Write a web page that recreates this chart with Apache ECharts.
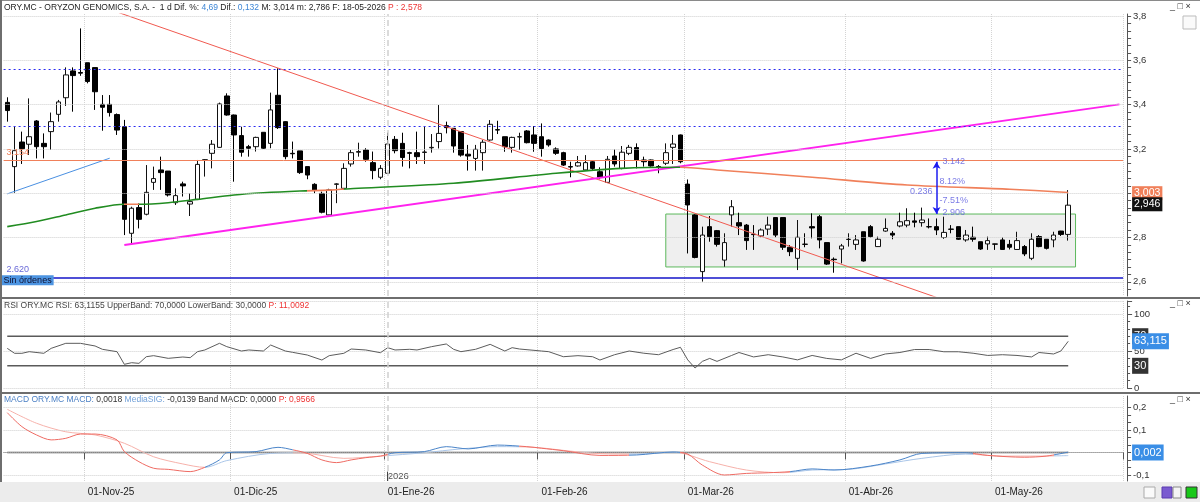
<!DOCTYPE html>
<html>
<head>
<meta charset="UTF-8">
<title>ORY.MC</title>
<script src="https://cdn.jsdelivr.net/npm/echarts@6/dist/echarts.min.js"></script>
<style>
html,body{margin:0;padding:0;background:#fff;}
#main{width:1200px;height:502px;}
</style>
</head>
<body>
<div id="main"></div>
<script type="text/javascript">
// sesiones diarias ORY.MC (17-10-2025 .. 18-05-2026)
var opens = [3.410,3.120,3.231,3.221,3.326,3.225,3.278,3.356,3.431,3.552,3.545,3.589,3.567,3.401,3.401,3.355,3.300,2.819,2.935,2.905,
3.049,3.105,3.100,2.957,3.042,2.951,2.972,3.150,3.180,3.207,3.439,3.353,3.260,3.210,3.210,3.275,3.225,3.442,3.323,3.180,
3.191,3.120,3.040,2.999,2.902,3.040,3.022,3.132,3.185,3.195,3.138,3.072,3.090,3.243,3.225,3.183,3.183,3.184,3.205,3.233,
3.305,3.293,3.278,3.176,3.157,3.183,3.240,3.287,3.255,3.207,3.254,3.281,3.263,3.255,3.240,3.200,3.183,3.120,3.123,3.105,
3.142,3.097,3.049,3.168,3.112,3.180,3.206,3.150,3.150,3.120,3.135,3.207,3.263,3.041,2.902,2.646,2.849,2.831,2.698,2.902,
2.867,2.856,2.815,2.807,2.838,2.890,2.890,2.756,2.706,2.770,2.849,2.894,2.777,2.702,2.748,2.791,2.769,2.826,2.849,2.759,
2.829,2.819,2.852,2.856,2.875,2.867,2.849,2.849,2.800,2.838,2.849,2.789,2.801,2.781,2.771,2.771,2.789,2.769,2.746,2.759,
2.706,2.804,2.792,2.789,2.829,2.814];
var highs = [3.433,3.300,3.278,3.428,3.330,3.270,3.364,3.421,3.568,3.568,3.744,3.589,3.567,3.443,3.443,3.360,3.331,2.939,2.954,3.127,
3.120,3.165,3.100,3.022,3.052,2.999,3.150,3.153,3.240,3.409,3.451,3.355,3.300,3.218,3.255,3.275,3.454,3.564,3.325,3.233,
3.191,3.120,3.045,3.007,3.020,3.045,3.135,3.195,3.228,3.203,3.188,3.127,3.273,3.258,3.273,3.187,3.278,3.303,3.267,3.398,
3.323,3.293,3.280,3.218,3.218,3.240,3.330,3.327,3.255,3.255,3.273,3.285,3.303,3.315,3.243,3.207,3.187,3.142,3.168,3.172,
3.147,3.117,3.168,3.198,3.213,3.218,3.225,3.165,3.152,3.127,3.225,3.263,3.265,3.062,2.905,2.849,2.897,2.834,2.819,2.969,
2.912,2.861,2.856,2.841,2.894,2.890,2.890,2.766,2.879,2.819,2.909,2.902,2.777,2.710,2.771,2.819,2.811,2.826,2.856,2.804,
2.886,2.829,2.912,2.932,2.912,2.935,2.886,2.886,2.894,2.856,2.849,2.834,2.849,2.781,2.804,2.772,2.801,2.789,2.826,2.766,
2.819,2.811,2.792,2.826,2.830,3.014];
var lows = [3.323,3.002,3.132,3.173,3.157,3.157,3.195,3.323,3.394,3.368,3.530,3.496,3.376,3.282,3.346,3.263,2.811,2.774,2.841,2.900,
3.015,3.015,2.985,2.947,2.985,2.897,2.969,3.075,3.112,3.205,3.350,3.052,3.165,3.165,3.188,3.200,3.203,3.290,3.153,3.157,
3.087,3.063,3.000,2.909,2.900,2.955,3.015,3.120,3.165,3.142,3.063,3.063,3.088,3.180,3.120,3.112,3.132,3.132,3.183,3.202,
3.270,3.183,3.165,3.102,3.102,3.102,3.237,3.267,3.187,3.183,3.195,3.225,3.187,3.165,3.210,3.173,3.123,3.072,3.120,3.102,
3.102,3.063,3.048,3.120,3.108,3.172,3.112,3.120,3.120,3.090,3.127,3.132,3.135,2.728,2.706,2.601,2.781,2.759,2.668,2.849,
2.811,2.744,2.744,2.801,2.811,2.801,2.744,2.716,2.653,2.756,2.796,2.751,2.676,2.641,2.683,2.759,2.744,2.691,2.799,2.758,
2.826,2.792,2.846,2.846,2.846,2.849,2.841,2.811,2.794,2.819,2.789,2.781,2.781,2.744,2.744,2.744,2.744,2.746,2.744,2.716,
2.698,2.756,2.746,2.756,2.807,2.786];
var closes = [3.373,3.192,3.201,3.255,3.210,3.210,3.323,3.412,3.534,3.531,3.542,3.504,3.458,3.388,3.364,3.285,2.882,2.932,2.882,3.004,
3.066,3.093,2.992,2.989,3.033,2.962,3.130,3.151,3.221,3.403,3.353,3.263,3.185,3.203,3.252,3.203,3.376,3.296,3.165,3.178,
3.093,3.082,3.012,2.914,3.015,3.042,3.112,3.183,3.188,3.153,3.102,3.112,3.222,3.192,3.161,3.180,3.165,3.186,3.207,3.270,
3.296,3.213,3.172,3.168,3.198,3.230,3.311,3.285,3.210,3.252,3.255,3.228,3.225,3.202,3.218,3.180,3.127,3.118,3.138,3.138,
3.112,3.072,3.153,3.132,3.185,3.207,3.150,3.142,3.123,3.118,3.183,3.222,3.142,2.947,2.710,2.811,2.804,2.769,2.777,2.939,
2.852,2.786,2.813,2.834,2.856,2.811,2.756,2.736,2.801,2.769,2.843,2.789,2.680,2.700,2.762,2.792,2.789,2.694,2.804,2.792,
2.841,2.811,2.871,2.876,2.869,2.879,2.848,2.834,2.823,2.837,2.792,2.811,2.792,2.748,2.786,2.770,2.746,2.756,2.786,2.726,
2.792,2.759,2.751,2.811,2.814,2.946];

// media movil (puntos leidos: [sesion, valor])
var maPoints = [[0,2.849],[4,2.872],[8,2.902],[12,2.932],[16,2.950],[18,2.950],[22,2.957],[26,2.972],[31,2.992],[35,3.002],
[40,3.010],[44,3.014],[48,3.022],[61,3.045],[75,3.090],[84,3.112],[92,3.117],[97,3.105],[110,3.072],[123,3.037],[137,3.018],[145,3.003]];
var maFalling = [[16,18],[41,46],[92,153]];

// RSI
var rsiPoints = [[0,53.6],[1,46.9],[2,46.9],[3,49.1],[5,46.9],[6,53.6],[8,60.4],[10,60.4],[12,56.8],[13,52.3],[15,49.1],[16,32],
[17,34.2],[18,33.3],[19,42.3],[20,43.7],[22,40.1],[24,41.9],[25,41],[26,49.1],[27,51.4],[29,60.4],[30,55.9],[32,50],[33,51.4],
[35,50],[36,58.1],[38,50],[39,48.2],[41,44.6],[43,37.8],[44,43.7],[46,46.9],[47,52.7],[49,51.4],[51,47.7],[52,54.5],[53,51.4],
[55,52.3],[56,51.4],[58,55.9],[60,59.5],[61,52.3],[62,49.1],[64,52.3],[66,59],[68,50],[69,54.5],[70,52.7],[73,50],[74,49.1],
[76,42.3],[78,43.7],[80,42.3],[81,37.8],[83,45],[85,50],[87,47],[89,45],[91,52],[92,55],[93,38],[94,27],[95,36],[96,40],
[97,36],[99,44],[100,48],[102,42],[104,45],[106,42],[108,38],[110,44],[112,40],[114,38],[116,47],[118,40],[120,46],[122,48],
[124,52],[126,52],[128,49],[130,49],[132,47],[134,44],[136,45],[138,44],[140,42],[141,48],[143,46],[144,50],[145,63.1]];
var rsiBands = [70, 30];

// MACD y senal
var macdPoints = [[0,0.177],[2,0.115],[4,0.078],[6,0.056],[8,0.063],[10,0.082],[12,0.082],[15,0.056],[16,0.004],[18,-0.041],
[20,-0.070],[22,-0.075],[25,-0.085],[27,-0.066],[29,-0.033],[30,-0.001],[34,0.004],[37,0.023],[39,0.012],[41,-0.004],[43,-0.033],
[45,-0.045],[47,-0.033],[49,-0.023],[51,-0.016],[53,-0.001],[57,0.004],[60,0.026],[63,0.016],[67,0.033],[71,0.026],[73,0.019],
[76,0.008],[81,-0.013],[86,-0.011],[91,0.002],[93,-0.007],[95,-0.056],[98,-0.100],[101,-0.093],[104,-0.090],[107,-0.085],
[110,-0.073],[113,-0.078],[118,-0.060],[122,-0.033],[125,-0.004],[131,-0.001],[134,-0.013],[139,-0.021],[142,-0.016],[145,0.0018]];
var signalPoints = [[0,0.192],[4,0.130],[8,0.092],[12,0.078],[16,0.041],[20,-0.019],[24,-0.051],[27,-0.066],[30,-0.036],[36,-0.004],
[40,-0.001],[46,-0.026],[51,-0.016],[57,-0.001],[62,0.016],[67,0.026],[72,0.023],[77,0.006],[81,-0.005],[86,-0.007],[91,0.002],
[96,-0.041],[101,-0.078],[106,-0.090],[110,-0.078],[115,-0.075],[120,-0.051],[125,-0.026],[131,-0.007],[136,-0.016],[141,-0.016],[145,-0.0139]];
var macdAbove = [[27,39],[52,70],[85,92],[107,132],[143,153]];

// niveles dibujados sobre el grafico
var priceTicks = [2.6, 2.8, 3.0, 3.2, 3.4, 3.6, 3.8];
var macdTicks = [0.2, 0.1, 0, -0.1];
var resistances = [3.564, 3.296];
var levelOrange = 3.154;
var levelSupport = 2.620;
var redTrend = [[15, 3.818], [128, 2.518]];
var pinkTrend = [[16, 2.766], [152, 3.401]];
var blueTrend = [[0, 2.997], [14, 3.158]];
var boxRange = {from: 90, to: 146, top: 2.906, bottom: 2.667};
var arrowAt = 127, arrowLow = 2.906, arrowHigh = 3.142;
var lastMa = 3.003, lastClose = 2.946, lastRsi = 63.1155, lastMacd = 0.0018;

var holidays = ['2025-12-25','2025-12-26','2026-01-01','2026-04-03','2026-04-06','2026-05-01'];
var meses = ['Ene','Feb','Mar','Abr','May','Jun','Jul','Ago','Sep','Oct','Nov','Dic'];
var totalSlots = 153;
var FONT = 'Liberation Sans';
var CLEAR = 'rgba(0,0,0,0)';

function buildDays(){
	var out = [], d = new Date(Date.UTC(2025, 9, 17));
	while (out.length < totalSlots) {
		var wd = d.getUTCDay(), s = d.toISOString().slice(0, 10);
		if (wd !== 0 && wd !== 6 && holidays.indexOf(s) < 0) out.push(s);
		d.setUTCDate(d.getUTCDate() + 1);
	}
	return out;
}
var days = buildDays();
function monthStart(i){
	return i > 0 && days[i].slice(5, 7) !== days[i - 1].slice(5, 7);
}
function dayLabel(s){
	return '01-' + meses[parseInt(s.slice(5, 7), 10) - 1] + '-' + s.slice(2, 4);
}
var janIdx = days.indexOf('2026-01-02');

// marcas del eje cada 1/3 de decima
function tickList(from, to, step){
	var out = [];
	for (var k = Math.round(from / step); k * step <= to + 1e-9; k++) out.push(+(k * step).toFixed(4));
	return out;
}

function colorPieces(ranges, onColor, offColor){
	var out = [], last = -10;
	ranges.forEach(function(r){
		out.push({gte: last, lt: r[0], color: offColor});
		out.push({gte: r[0], lt: r[1], color: onColor});
		last = r[1];
	});
	out.push({gte: last, color: offColor});
	return out;
}
function comma(v, d){
	return v.toFixed(d).replace('.', ',');
}
function gridLines(values, dec){
	return values.map(function(v){
		return {yAxis: v, lineStyle: {color: '#cfcfcf', type: 'dotted', width: 1},
			label: {show: true, position: 'end', distance: 10, formatter: v === 0 ? '0' : comma(v, dec),
				color: '#333', fontSize: 9.5, fontFamily: FONT}};
	});
}
function tag(v, text, bg, size){
	return {yAxis: v, lineStyle: {color: CLEAR, width: 0},
		label: {show: true, position: 'end', distance: 9, formatter: text, color: '#fff', backgroundColor: bg,
			padding: size > 10.5 ? [3, 2, 2, 2] : [2, 2, 1, 2], fontSize: size || 10.5, fontFamily: FONT}};
}
function janLine(){
	return {xAxis: janIdx, lineStyle: {color: '#d0d0d0', type: [6, 4], width: 1.5}, label: {show: false}};
}
function rich(color){
	return {color: color, fontSize: 8.5, fontFamily: FONT, fontWeight: 'normal'};
}

var candles = opens.map(function(o, i){ return [o, closes[i], lows[i], highs[i]]; });

var vSplit = {show: true, interval: function(i){ return monthStart(i); }, lineStyle: {color: '#d4d4d4', type: 'dotted'}};

var myChart = echarts.init(document.getElementById('main'));
var option = {
	animation: false,
	backgroundColor: '#fff',
	title: [{
		left: 4, top: 3, padding: 0,
		text: '{a|ORY.MC - ORYZON GENOMICS, S.A. -  1 d Dif. %: }{b|4,69}{a| Dif.: }{b|0,132}{a| M: 3,014 m: 2,786 F: 18-05-2026 }{r|P : 2,578}',
		textStyle: {fontSize: 8.5, fontFamily: FONT, fontWeight: 'normal',
			rich: {a: rich('#222'), b: rich('#3d86d6'), r: rich('#ee3333')}}
	}, {
		left: 4, top: 301, padding: 0,
		text: '{a|RSI ORY.MC RSI: 63,1155 UpperBand: 70,0000 LowerBand: 30,0000 }{r|P: 11,0092}',
		textStyle: {fontSize: 8.5, fontFamily: FONT, fontWeight: 'normal',
			rich: {a: rich('#444'), r: rich('#ee3333')}}
	}, {
		left: 4, top: 395, padding: 0,
		text: '{b|MACD ORY.MC MACD: }{a|0,0018 }{c|MediaSIG: }{a|-0,0139 Band MACD: 0,0000 }{r|P: 0,9566}',
		textStyle: {fontSize: 8.5, fontFamily: FONT, fontWeight: 'normal',
			rich: {a: rich('#333'), b: rich('#4a7fc4'), c: rich('#6f9fd8'), r: rich('#ee3333')}}
	}],
	grid: [
		{left: 3.6, right: 76.9, top: 14, bottom: 206},
		{left: 3.6, right: 76.9, top: 301, bottom: 114},
		{left: 3.6, right: 76.9, top: 396, bottom: 21}
	],
	xAxis: [
		{gridIndex: 0, type: 'category', data: days, boundaryGap: true, axisLine: {show: false}, axisTick: {show: false}, axisLabel: {show: false}, splitLine: vSplit},
		{gridIndex: 1, type: 'category', data: days, boundaryGap: true, axisLine: {show: false}, axisTick: {show: false}, axisLabel: {show: false}, splitLine: vSplit},
		{gridIndex: 2, type: 'category', data: days, boundaryGap: true,
			axisLine: {show: true, lineStyle: {color: '#888'}},
			axisTick: {show: true, interval: function(i){ return monthStart(i); }, length: 7, lineStyle: {color: '#555'}},
			axisLabel: {show: true, interval: function(i){ return monthStart(i); }, formatter: dayLabel, align: 'left', margin: 6,
				color: '#222', fontSize: 10, fontFamily: FONT},
			splitLine: vSplit}
	],
	yAxis: [
		{gridIndex: 0, type: 'value', position: 'right', offset: 4, min: 2.5359, max: 3.809, scale: true,
			axisLine: {show: true, lineStyle: {color: '#555'}},
			axisTick: {show: true, customValues: tickList(2.55, 3.8, 0.2 / 6), length: 4, lineStyle: {color: '#555'}},
			axisLabel: {show: false}, splitLine: {show: false}},
		{gridIndex: 1, type: 'value', position: 'right', offset: 4, min: 0, max: 117.6, interval: 50,
			axisLine: {show: true, lineStyle: {color: '#555'}},
			axisTick: {show: true, length: 5, lineStyle: {color: '#555'}},
			minorTick: {show: true, splitNumber: 5, length: 3, lineStyle: {color: '#555'}},
			axisLabel: {show: true, showMaxLabel: false, color: '#333', fontSize: 9.5, fontFamily: FONT, margin: 7},
			splitLine: {show: true, lineStyle: {color: '#cfcfcf', type: 'dotted'}}},
		{gridIndex: 2, type: 'value', position: 'right', offset: 4, min: -0.1267, max: 0.2511, scale: true,
			axisLine: {show: true, lineStyle: {color: '#555'}},
			axisTick: {show: true, customValues: tickList(-0.12, 0.25, 0.1 / 3), length: 4, lineStyle: {color: '#555'}},
			axisLabel: {show: false}, splitLine: {show: false}}
	],
	visualMap: [
		{type: 'piecewise', show: false, seriesIndex: 4, dimension: 0, pieces: colorPieces(maFalling, '#f0805a', '#218c21')},
		{type: 'piecewise', show: false, seriesIndex: 9, dimension: 0, pieces: colorPieces(macdAbove, '#4a84c8', '#ee6a62')},
		{type: 'piecewise', show: false, seriesIndex: 10, dimension: 0, pieces: colorPieces(macdAbove, '#a9c5e8', '#f6b1aa')}
	],
	series: [
		{
			name: 'ORY.MC', type: 'candlestick', xAxisIndex: 0, yAxisIndex: 0, data: candles, barWidth: 5, z: 3,
			itemStyle: {color: '#ffffff', color0: '#000000', borderColor: '#111', borderColor0: '#000', borderWidth: 1},
			markArea: {silent: true, itemStyle: {color: '#efefef', borderColor: '#5cb85c', borderWidth: 1},
				data: [[{coord: [boxRange.from, boxRange.top]}, {coord: [boxRange.to, boxRange.bottom]}]]},
			markLine: {silent: true, symbol: ['none', 'none'], animation: false,
				data: gridLines(priceTicks, 1).concat([
					janLine(),
					{yAxis: resistances[0], lineStyle: {color: '#2b2bf2', type: [2, 3], width: 1.2}, label: {show: false}},
					{yAxis: resistances[1], lineStyle: {color: '#2b2bf2', type: [2, 3], width: 1.2}, label: {show: false}},
					{yAxis: levelOrange, lineStyle: {color: '#f0805a', type: 'solid', width: 1},
						label: {show: true, position: 'insideStartTop', distance: 3, formatter: '3,154', color: '#f0805a', fontSize: 9, fontFamily: FONT}},
					{yAxis: levelSupport, lineStyle: {color: '#1414c8', type: 'solid', width: 1.6},
						label: {show: true, position: 'insideStartTop', distance: 3, formatter: '2.620', color: '#6a6ad8', fontSize: 9, fontFamily: FONT}},
					{yAxis: levelSupport, lineStyle: {color: CLEAR, width: 0},
						label: {show: true, position: 'insideStartBottom', distance: -2, formatter: 'Sin órdenes', color: '#101030',
							backgroundColor: '#4d95e2', padding: [1, 2, 0, 2], fontSize: 9, fontFamily: FONT}},
					tag(lastMa, '3,003', '#f0805a', 10.5),
					tag(lastClose, '2,946', '#111', 10.5)
				])}
		},
		{name: 'red', type: 'line', xAxisIndex: 0, yAxisIndex: 0, data: redTrend, showSymbol: false, silent: true,
			lineStyle: {color: '#f05a50', width: 1}, z: 4},
		{name: 'pink', type: 'line', xAxisIndex: 0, yAxisIndex: 0, data: pinkTrend, showSymbol: false, silent: true,
			lineStyle: {color: '#ff22ee', width: 2}, z: 4},
		{name: 'blue', type: 'line', xAxisIndex: 0, yAxisIndex: 0, data: blueTrend, showSymbol: false, silent: true,
			lineStyle: {color: '#4a90e2', width: 1}, z: 4},
		{name: 'MA', type: 'line', xAxisIndex: 0, yAxisIndex: 0, data: maPoints, showSymbol: false, smooth: 0.3, silent: true,
			lineStyle: {width: 1.6}, z: 4},
		{
			name: 'arrow', type: 'scatter', xAxisIndex: 0, yAxisIndex: 0, symbolSize: 0, silent: true, z: 6,
			label: {show: true, color: '#5a5ae0', fontSize: 9, fontFamily: FONT},
			data: [
				{value: [arrowAt, 3.142], label: {position: 'right', distance: 6, formatter: '3.142'}},
				{value: [arrowAt, 3.052], label: {position: 'right', distance: 3, formatter: '8.12%'}},
				{value: [arrowAt, 3.007], label: {position: 'left', distance: 4, formatter: '0.236'}},
				{value: [arrowAt, 2.969], label: {position: 'right', distance: 3, formatter: '-7.51%'}},
				{value: [arrowAt, 2.914], label: {position: 'right', distance: 6, formatter: '2.906'}}
			],
			markLine: {silent: true, symbol: ['arrow', 'arrow'], symbolSize: [6, 7], animation: false,
				lineStyle: {color: '#1c1cf0', width: 1.5, type: 'solid'}, label: {show: false},
				data: [[{coord: [arrowAt, arrowLow]}, {coord: [arrowAt, arrowHigh]}]]}
		},
		{name: 'RSI', type: 'line', xAxisIndex: 1, yAxisIndex: 1, data: rsiPoints, showSymbol: false, silent: true,
			lineStyle: {color: '#5c5c5c', width: 1}, z: 4,
			markLine: {silent: true, symbol: ['none', 'none'], animation: false,
				data: [janLine(), tag(70, '70', '#333', 11), tag(lastRsi, '63,115', '#3a8ee6', 11), tag(30, '30', '#333', 11)]}},
		{name: 'UpperBand', type: 'line', xAxisIndex: 1, yAxisIndex: 1, data: [[0, rsiBands[0]], [145, rsiBands[0]]], showSymbol: false, silent: true,
			lineStyle: {color: '#5a5a5a', width: 1.5}},
		{name: 'LowerBand', type: 'line', xAxisIndex: 1, yAxisIndex: 1, data: [[0, rsiBands[1]], [145, rsiBands[1]]], showSymbol: false, silent: true,
			lineStyle: {color: '#5a5a5a', width: 1.5}},
		{name: 'MACD', type: 'line', xAxisIndex: 2, yAxisIndex: 2, data: macdPoints, showSymbol: false, smooth: 0.3, silent: true,
			lineStyle: {width: 1}, z: 5},
		{name: 'MediaSIG', type: 'line', xAxisIndex: 2, yAxisIndex: 2, data: signalPoints, showSymbol: false, smooth: 0.3, silent: true,
			lineStyle: {width: 1}, z: 4},
		{name: 'zero', type: 'line', xAxisIndex: 2, yAxisIndex: 2, data: [[0, 0], [145, 0]], showSymbol: false, silent: true,
			lineStyle: {color: '#555', width: 1.5}, z: 3,
			markLine: {silent: true, symbol: ['none', 'none'], animation: false,
				data: gridLines(macdTicks, 1).concat([janLine(), tag(lastMacd, '0,002', '#3a8ee6', 11)])}},
		{name: 'year', type: 'scatter', xAxisIndex: 2, yAxisIndex: 2, symbolSize: 0, silent: true,
			data: [{value: [janIdx, -0.104], label: {show: true, position: 'right', distance: 0, formatter: '2026', color: '#222', fontSize: 9.5, fontFamily: FONT}}],
			markLine: {silent: true, symbol: ['none', 'none'], animation: false, label: {show: false},
				lineStyle: {color: '#444', width: 1, type: 'solid'},
				data: [[{coord: [janIdx, -0.085]}, {coord: [janIdx, -0.1267]}]]}}
	],
	graphic: [
		{type: 'rect', z: -10, shape: {x: 0, y: 482, width: 1200, height: 20}, style: {fill: '#ececec'}},
		{type: 'rect', z: 50, shape: {x: 0, y: 0, width: 1200, height: 1}, style: {fill: '#8a8a8a'}},
		{type: 'rect', z: 50, shape: {x: 0, y: 0, width: 2, height: 482}, style: {fill: '#6e6e6e'}},
		{type: 'rect', z: 50, shape: {x: 0, y: 297, width: 1200, height: 2}, style: {fill: '#6e6e6e'}},
		{type: 'rect', z: 50, shape: {x: 0, y: 392, width: 1200, height: 2}, style: {fill: '#6e6e6e'}},
		{type: 'rect', z: 50, shape: {x: 1128, y: 394, width: 72, height: 10}, style: {fill: '#fff'}},
		{type: 'text', z: 51, x: 1170, y: 2, style: {text: '_ □ ×', fill: '#333', font: '9px Liberation Sans'}},
		{type: 'text', z: 51, x: 1170, y: 299, style: {text: '_ □ ×', fill: '#333', font: '9px Liberation Sans'}},
		{type: 'text', z: 51, x: 1170, y: 395, style: {text: '_ □ ×', fill: '#333', font: '9px Liberation Sans'}},
		{type: 'rect', z: 51, shape: {x: 1183, y: 16, width: 13, height: 13}, style: {fill: '#fafafa', stroke: '#bbb'}},
		{type: 'rect', z: 51, shape: {x: 1144, y: 487, width: 11, height: 11}, style: {fill: '#fafafa', stroke: '#aaa'}},
		{type: 'rect', z: 51, shape: {x: 1162, y: 487, width: 10, height: 11}, style: {fill: '#7a5ad0', stroke: '#5a3ab0'}},
		{type: 'rect', z: 51, shape: {x: 1173, y: 487, width: 8, height: 11}, style: {fill: '#f4f4f4', stroke: '#888'}},
		{type: 'rect', z: 51, shape: {x: 1186, y: 487, width: 11, height: 11}, style: {fill: '#18c818', stroke: '#333'}}
	]
};
myChart.setOption(option);
</script>
</body>
</html>
